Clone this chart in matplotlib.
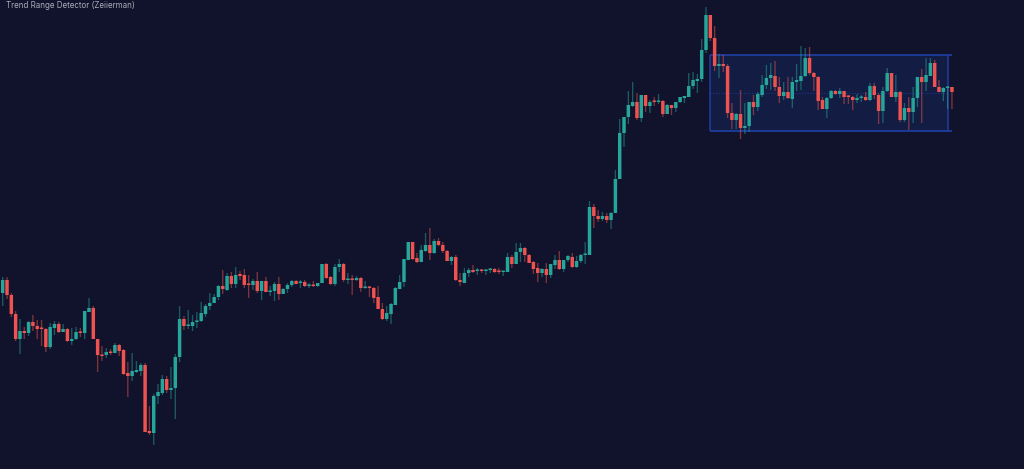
import numpy as np
import matplotlib
matplotlib.use("Agg")
import matplotlib.pyplot as plt
from matplotlib.patches import Rectangle

# Candles (price scale is arbitrary, axis is hidden)
opens = [176,189,174,155,130,138,136,147,143,141,140,122,141,145,137,140,128,130,137,136,
         157,161,130,114,114,117,116,124,119,96,93,97,98,104,38,36,73,76,90,79,
         81,112,150,143,143,147,148,155,163,166,172,183,179,193,185,195,194,185,184,188,
         178,188,177,178,185,175,180,184,188,186,187,183,184,183,186,205,192,185,202,205,
         189,190,189,191,181,182,181,172,160,150,155,164,180,187,209,227,211,207,218,224,
         216,228,224,218,208,212,189,186,196,199,198,199,198,199,200,198,197,197,212,205,
         217,221,214,207,201,196,200,194,204,209,200,209,212,202,208,214,214,262,253,250,
         253,249,256,290,336,352,363,367,351,374,363,368,367,368,355,364,361,367,371,372,
         383,388,390,419,454,431,403,405,403,356,349,355,341,343,367,362,374,384,391,393,
         382,373,377,370,387,388,393,411,396,392,369,360,371,378,375,378,373,372,369,371,
         372,369,383,374,358,378,396,372,377,349,361,357,371,392,387,393,406,382,377,381,382]
highs = [192,192,176,158,150,142,148,154,149,149,141,146,148,147,145,141,141,142,141,158,
         171,163,130,123,121,120,126,125,120,107,116,108,106,106,63,75,85,94,93,102,
         115,163,153,159,154,157,167,165,176,175,184,199,196,197,202,198,200,194,190,197,
         188,192,183,187,192,181,186,189,189,189,189,186,188,186,205,206,193,205,210,206,
         196,194,193,192,188,183,182,183,166,163,166,182,194,210,227,227,216,224,236,241,
         230,231,227,219,213,214,196,201,201,204,201,200,200,201,201,201,198,216,214,226,
         226,222,215,208,206,201,206,205,214,218,209,214,216,213,215,227,268,265,259,257,
         256,257,299,350,352,378,387,376,374,374,369,372,375,369,365,364,367,372,373,396,
         397,395,430,462,454,443,415,414,405,366,356,379,366,367,374,377,394,404,406,408,
         392,387,392,392,405,423,421,422,397,393,372,372,379,379,381,378,374,373,375,374,
         377,386,386,376,382,401,396,394,378,366,372,382,392,400,411,411,409,389,382,383,382]
lows = [163,170,152,128,115,130,133,138,130,123,117,120,134,136,137,127,124,129,132,130,
        157,130,97,108,111,114,116,113,94,72,88,96,93,37,34,24,65,74,76,70,
        50,107,139,140,138,141,147,152,159,166,169,175,178,181,181,189,181,171,179,176,
        169,177,173,168,169,175,176,182,185,181,182,181,182,182,186,190,184,183,197,187,
        185,174,188,177,180,172,166,160,149,148,145,164,180,182,209,209,206,207,217,209,
        215,223,216,208,204,188,183,186,192,196,194,196,194,196,196,195,193,197,201,205,
        207,207,206,195,187,192,186,191,200,199,197,207,201,201,206,205,214,241,247,248,
        246,240,256,290,322,345,362,349,347,357,356,363,365,352,355,354,357,366,366,372,
        380,376,387,416,428,398,391,397,351,340,340,330,335,337,354,358,372,380,379,378,
        366,369,370,361,378,379,392,394,378,359,360,351,370,374,371,365,365,359,366,367,
        368,368,370,345,346,377,372,367,347,347,339,346,362,346,378,393,382,377,368,360,360]
closes = [189,174,155,130,138,136,147,143,140,140,122,142,145,137,140,128,130,137,136,158,
          161,130,114,113,117,116,124,118,95,93,98,99,104,37,36,73,77,90,79,81,
          112,150,143,144,147,148,156,163,166,172,183,180,193,185,194,193,184,184,188,178,
          188,177,178,185,175,180,184,188,185,187,183,184,183,186,205,191,185,202,205,189,
          190,189,191,181,182,181,171,160,150,156,165,181,187,210,227,210,207,219,224,216,
          228,224,218,208,212,189,187,196,199,197,199,198,199,200,197,197,198,212,205,217,
          221,214,206,200,196,200,194,205,209,200,209,213,202,208,214,215,262,253,250,253,
          249,256,290,336,352,364,367,351,374,363,367,367,368,355,364,361,367,372,373,383,
          389,390,419,454,431,403,405,403,356,349,355,341,343,367,362,375,384,391,394,382,
          373,377,371,387,389,393,411,396,392,368,360,371,378,375,378,372,372,369,371,372,
          369,383,374,358,378,396,372,377,349,361,357,371,392,387,394,406,382,377,381,382,377]

# Detected range, in bar index / price
range_start = 164
range_end = 219
range_stop = 220
range_top = 414
range_bottom = 338.5
range_mid = 375.7

title = "Trend Range Detector (Zeiierman)"

BG = "#10132b"
UP = "#26a69a"
DOWN = "#ef5350"
BOX = "#1e3e9e"

fig = plt.figure(figsize=(10.24, 4.69), dpi=100, facecolor=BG)
ax = fig.add_axes([0, 0, 1, 1], facecolor=BG)

x = np.arange(len(opens))
o = np.array(opens)
h = np.array(highs)
l = np.array(lows)
c = np.array(closes)
colors = np.where(c >= o, UP, DOWN)

# range box
ax.add_patch(Rectangle((range_start, range_bottom), range_end - range_start, range_top - range_bottom,
                       facecolor="#131c42", edgecolor="none", zorder=1))
ax.hlines([range_top, range_bottom], range_start, range_stop, color=BOX, linewidth=1.3, zorder=2)
ax.vlines([range_start, range_end], range_bottom, range_top, color=BOX, linewidth=1.1, zorder=2)
ax.hlines(range_mid, range_start, range_end, color=BOX, linewidth=0.8, linestyle=(0, (1, 1.5)), alpha=0.8, zorder=2)

# candles, left unsnapped so the soft edges of the screenshot come through
wicks = ax.vlines(x, l, h, color=colors, linewidth=0.95, alpha=0.5, zorder=3)
wicks.set_snap(False)
body_low = np.minimum(o, c)
body_h = np.maximum(np.abs(c - o), 1.5)
bars = ax.bar(x, body_h, bottom=body_low, width=0.8, color=colors, linewidth=0, zorder=4)
for b in bars:
    b.set_snap(False)

ax.set_xlim(-0.626, 236.7)
ax.set_ylim(0, 469)
ax.axis("off")

fig.text(6 / 1024, 1 - 6 / 469, title, color="#a9adb8", fontsize=5.75, family="Inter", va="center", ha="left")

fig.savefig("out.png", dpi=100, facecolor=BG)
